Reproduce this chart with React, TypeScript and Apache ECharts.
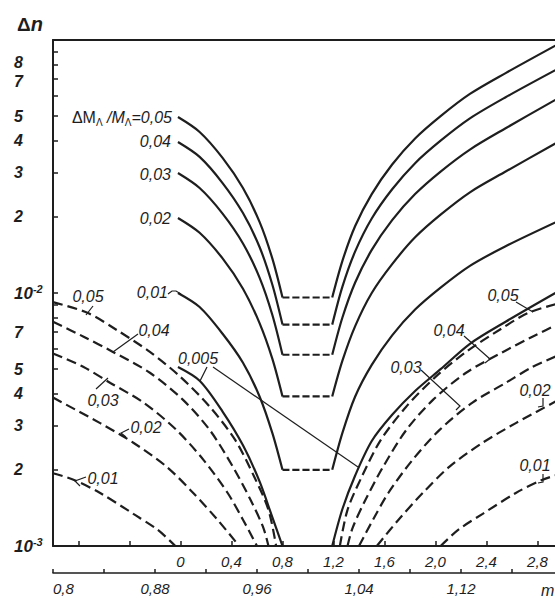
import React, { useEffect, useRef } from 'react';
import * as echarts from 'echarts';

const FONT = '"Liberation Sans", Arial, sans-serif';
const INK = '#1e1e1e';

// ---- axis ticks / labels ----
const Y_TICKS = [0.001, 0.002, 0.003, 0.004, 0.005, 0.006, 0.007, 0.008, 0.009, 0.01, 0.02, 0.03, 0.04, 0.05, 0.06, 0.07, 0.08, 0.09, 0.1];
const Y_LABEL_VALUES = [0.001, 0.002, 0.003, 0.004, 0.005, 0.007, 0.01, 0.02, 0.03, 0.04, 0.05, 0.07, 0.08];
const Y_LABEL_BASE = ['10', '2', '3', '4', '5', '7', '10', '2', '3', '4', '5', '7', '8'];
const Y_LABEL_SUP = ['-3', '', '', '', '', '', '-2', '', '', '', '', '', ''];
// labels placed on a second (line-less) y axis so that close neighbours are not dropped
const Y_LABEL_VALUES_ALT = [0.07];

const M_TICKS = [0.8, 0.84, 0.88, 0.92, 0.96, 1.0, 1.04, 1.08, 1.12, 1.16];
const M_LABEL_VALUES = [0.8, 0.88, 0.96, 1.04, 1.12];
const M_LABEL_TEXTS = ['0,8', '0,88', '0,96', '1,04', '1,12'];

const U_TICKS = [-0.8, -0.4, 0, 0.4, 0.8, 1.2, 1.6, 2.0, 2.4, 2.8];
const U_LABEL_VALUES = [0, 0.4, 0.8, 1.2, 1.6, 2.0, 2.4, 2.8];
const U_LABEL_TEXTS = ['0', '0,4', '0,8', '1,2', '1,6', '2,0', '2,4', '2,8'];

// ---- solid V-shaped curves (ΔMΛ/MΛ = 0.05 ... 0.005) ----
const V_LEFT_M = [0.898, 0.915, 0.933, 0.949, 0.962, 0.972, 0.980];
const V05_LEFT = [0.0496, 0.0433, 0.0342, 0.0260, 0.0191, 0.0137, 0.0096];
const V04_LEFT = [0.0395, 0.0345, 0.0272, 0.0207, 0.0152, 0.0108, 0.0075];
const V03_LEFT = [0.0298, 0.0260, 0.0206, 0.0157, 0.0115, 0.0082, 0.0057];
const V02_LEFT = [0.0198, 0.0173, 0.0137, 0.0104, 0.0076, 0.0055, 0.0039];
const V01_LEFT = [0.0100, 0.0088, 0.0069, 0.0053, 0.0039, 0.0028, 0.0020];
const V005_LEFT = [0.0051, 0.0045, 0.0034, 0.0025, 0.0018, 0.0013, 0.0010];

const V_RIGHT_M = [1.019, 1.027, 1.037, 1.050, 1.066, 1.084, 1.104, 1.127, 1.155, 1.194];
const V05_RIGHT = [0.0096, 0.0134, 0.0184, 0.0246, 0.0322, 0.0408, 0.0500, 0.0612, 0.0740, 0.0950];
const V04_RIGHT = [0.0075, 0.0106, 0.0146, 0.0197, 0.0257, 0.0326, 0.0400, 0.0490, 0.0594, 0.0760];
const V03_RIGHT = [0.0057, 0.0080, 0.0110, 0.0148, 0.0194, 0.0246, 0.0302, 0.0369, 0.0448, 0.0580];
const V02_RIGHT = [0.0039, 0.0054, 0.0074, 0.0100, 0.0130, 0.0166, 0.0204, 0.0250, 0.0302, 0.0390];
const V01_RIGHT = [0.0020, 0.0028, 0.0039, 0.0052, 0.0068, 0.0086, 0.0105, 0.0128, 0.0153, 0.0190];
const V005_RIGHT = [0.0010, 0.0014, 0.0019, 0.0026, 0.0033, 0.0041, 0.0050, 0.0063, 0.0077, 0.0100];

const V_FLAT_M = [0.980, 1.019];
const V_FLAT = [0.0096, 0.0075, 0.0057, 0.0039, 0.0020];

// ---- dashed curves ----
const D05_LEFT_M = [0.800, 0.827, 0.850, 0.876, 0.900, 0.923, 0.943, 0.958, 0.969, 0.975];
const D05_LEFT = [0.0092, 0.00835, 0.00714, 0.00585, 0.00466, 0.00355, 0.00262, 0.00187, 0.00139, 0.00100];
const D04_LEFT_M = [0.800, 0.824, 0.847, 0.876, 0.902, 0.923, 0.941, 0.955, 0.965, 0.969];
const D04_LEFT = [0.0077, 0.00672, 0.00585, 0.00484, 0.00378, 0.00287, 0.00206, 0.00152, 0.00118, 0.00100];
const D03_LEFT_M = [0.800, 0.824, 0.845, 0.871, 0.897, 0.918, 0.937, 0.949, 0.960];
const D03_LEFT = [0.00577, 0.0051, 0.00441, 0.00369, 0.00287, 0.00219, 0.00162, 0.00127, 0.00100];
const D02_LEFT_M = [0.800, 0.837, 0.863, 0.889, 0.910, 0.929, 0.946];
const D02_LEFT = [0.00386, 0.00306, 0.00256, 0.00206, 0.00162, 0.00127, 0.00100];
const D01_LEFT_M = [0.800, 0.817, 0.837, 0.863, 0.882, 0.896];
const D01_LEFT = [0.00194, 0.00182, 0.00162, 0.00134, 0.00116, 0.00100];

const D05_RIGHT_M = [1.025, 1.031, 1.042, 1.057, 1.077, 1.100, 1.124, 1.150, 1.173, 1.200];
const D05_RIGHT = [0.00100, 0.00139, 0.00187, 0.00262, 0.00355, 0.00466, 0.00585, 0.00714, 0.00835, 0.0092];
const D04_RIGHT_M = [1.031, 1.035, 1.045, 1.059, 1.077, 1.098, 1.124, 1.153, 1.176, 1.200];
const D04_RIGHT = [0.00100, 0.00118, 0.00152, 0.00206, 0.00287, 0.00378, 0.00484, 0.00585, 0.00672, 0.0077];
const D03_RIGHT_M = [1.040, 1.051, 1.063, 1.082, 1.103, 1.129, 1.155, 1.176, 1.200];
const D03_RIGHT = [0.00100, 0.00127, 0.00162, 0.00219, 0.00287, 0.00369, 0.00441, 0.0051, 0.00577];
const D02_RIGHT_M = [1.054, 1.071, 1.090, 1.111, 1.137, 1.163, 1.200];
const D02_RIGHT = [0.00100, 0.00127, 0.00162, 0.00206, 0.00256, 0.00306, 0.00386];
const D01_RIGHT_M = [1.104, 1.118, 1.137, 1.163, 1.183, 1.200];
const D01_RIGHT = [0.00100, 0.00116, 0.00134, 0.00162, 0.00182, 0.00194];

const lg = (v: number) => Math.log10(v);
const nearest = (arr: number[], v: number, f: (x: number) => number = (x) => x) => {
  let bi = 0;
  let bd = Infinity;
  arr.forEach((a, i) => {
    const d = Math.abs(f(a) - v);
    if (d < bd) { bd = d; bi = i; }
  });
  return bi;
};

const DASH_CURVE = [10, 5];
const DASH_FLAT = [7, 3];

function curve(ms: number[], vals: number[], dash?: number[]) {
  return {
    type: 'line',
    xAxisIndex: 0,
    yAxisIndex: 0,
    data: ms.map((m, i) => [m, lg(vals[i])]),
    showSymbol: false,
    symbol: 'none',
    smooth: 0.3,
    silent: true,
    clip: true,
    lineStyle: { color: INK, width: 2.2, type: dash ? dash : 'solid', cap: 'butt' },
  };
}

const textStyle = (size = 16) => ({ fontFamily: FONT, fontSize: size, fontStyle: 'italic', color: INK });

function label(x: number, y: number, text: string, align: string = 'center') {
  return {
    type: 'text',
    x, y,
    z: 100,
    style: {
      text,
      fill: INK,
      font: `italic 16px ${FONT}`,
      textAlign: align, align,
      textVerticalAlign: 'middle', verticalAlign: 'middle',
    },
  };
}

function leader(points: number[][]) {
  return {
    type: 'polyline',
    z: 100,
    shape: { points },
    style: { stroke: INK, lineWidth: 1.2, fill: 'none' },
  };
}

// the two topmost labels (7 and 8 of the upper decade) sit very close: nudge them apart slightly
const yFmt = (val: number) => {
  const i = nearest(Y_LABEL_VALUES, val, lg);
  if (Y_LABEL_SUP[i]) return `{t|${Y_LABEL_BASE[i]}}{s|${Y_LABEL_SUP[i]}}`;
  if (i === Y_LABEL_VALUES.length - 1) return `{up|${Y_LABEL_BASE[i]}}`;
  if (i === Y_LABEL_VALUES.length - 2) return `{dn|${Y_LABEL_BASE[i]}}`;
  return `{b|${Y_LABEL_BASE[i]}}`;
};

const Y_BASE_STYLE = { fontFamily: FONT, fontSize: 16, fontWeight: 'bold', fontStyle: 'italic', color: INK, lineHeight: 12 };
const Y_RICH = {
  b: Y_BASE_STYLE,
  up: { ...Y_BASE_STYLE, padding: [0, 0, 5, 0] },
  dn: { ...Y_BASE_STYLE, padding: [5, 0, 0, 0] },
  t: { fontFamily: FONT, fontSize: 17, fontWeight: 'bold', fontStyle: 'italic', color: INK, lineHeight: 20 },
  s: { fontFamily: FONT, fontSize: 11, fontWeight: 'bold', fontStyle: 'italic', color: INK, lineHeight: 10, verticalAlign: 'top' },
};

function buildOption() {
  const series: any[] = [];
  const lefts = [V05_LEFT, V04_LEFT, V03_LEFT, V02_LEFT, V01_LEFT, V005_LEFT];
  const rights = [V05_RIGHT, V04_RIGHT, V03_RIGHT, V02_RIGHT, V01_RIGHT, V005_RIGHT];
  lefts.forEach((v) => series.push(curve(V_LEFT_M, v)));
  rights.forEach((v) => series.push(curve(V_RIGHT_M, v)));
  V_FLAT.forEach((lvl) => series.push(curve(V_FLAT_M, [lvl, lvl], DASH_FLAT)));
  [
    [D05_LEFT_M, D05_LEFT], [D04_LEFT_M, D04_LEFT], [D03_LEFT_M, D03_LEFT], [D02_LEFT_M, D02_LEFT], [D01_LEFT_M, D01_LEFT],
    [D05_RIGHT_M, D05_RIGHT], [D04_RIGHT_M, D04_RIGHT], [D03_RIGHT_M, D03_RIGHT], [D02_RIGHT_M, D02_RIGHT], [D01_RIGHT_M, D01_RIGHT],
  ].forEach(([m, v]) => series.push(curve(m, v, DASH_CURVE)));

  const mainLabels = Y_LABEL_VALUES.filter((v) => !Y_LABEL_VALUES_ALT.includes(v));

  const graphics: any[] = [
    {
      type: 'text', x: 17, y: 24, z: 100,
      style: {
        text: '{d|Δ}{n|n}',
        textVerticalAlign: 'middle', verticalAlign: 'middle',
        rich: {
          d: { fontFamily: FONT, fontSize: 19, fontWeight: 'bold', fill: INK, color: INK },
          n: { fontFamily: FONT, fontSize: 20, fontWeight: 'bold', fontStyle: 'italic', fill: INK, color: INK },
        },
      },
    },
    {
      type: 'text', x: 172, y: 117, z: 100,
      style: {
        text: '{a|ΔM}{s|Λ}{b| /M}{s|Λ}{b|=0,05}',
        textAlign: 'right', align: 'right',
        textVerticalAlign: 'middle', verticalAlign: 'middle',
        rich: {
          a: { fontFamily: FONT, fontSize: 16, fill: INK, color: INK, lineHeight: 20 },
          b: { fontFamily: FONT, fontSize: 16, fontStyle: 'italic', fill: INK, color: INK, lineHeight: 20 },
          s: { fontFamily: FONT, fontSize: 10, fill: INK, color: INK, lineHeight: 11, verticalAlign: 'bottom' },
        },
      },
    },
    label(171, 141, '0,04', 'right'),
    label(171, 174, '0,03', 'right'),
    label(171, 218, '0,02', 'right'),
    label(168, 292, '0,01', 'right'),
    label(88, 296, '0,05'),
    label(154, 330, '0,04'),
    label(103, 400, '0,03'),
    label(146, 427, '0,02'),
    label(103, 478, '0,01'),
    label(198, 358, '0,005'),
    label(503, 295, '0,05'),
    label(449, 330, '0,04'),
    label(406, 367, '0,03'),
    label(535, 390, '0,02'),
    label(535, 465, '0,01'),
    label(541, 590, 'm', 'left'),
    leader([[168, 294], [172, 291], [176, 291], [181, 294]]),
    leader([[93, 306], [86, 315]]),
    leader([[138, 334], [113, 352]]),
    leader([[96, 389], [108, 378]]),
    leader([[129, 429], [121, 433], [126, 437]]),
    leader([[86, 477], [75, 481], [80, 486]]),
    leader([[207, 367], [200, 381]]),
    leader([[213, 367], [358, 467]]),
    leader([[516, 302], [533, 312]]),
    leader([[464, 336], [490, 359], [485, 363]]),
    leader([[421, 370], [460, 406], [456, 410]]),
    leader([[543, 398], [543, 406], [538, 407]]),
    leader([[543, 474], [543, 482], [538, 483]]),
  ];

  return {
    animation: false,
    backgroundColor: '#ffffff',
    grid: { left: 53, top: 40, width: 510, height: 506, containLabel: false },
    xAxis: [
      {
        type: 'value', min: 0.8, max: 1.2, position: 'bottom', offset: 27,
        axisLine: { show: true, onZero: false, lineStyle: { color: INK, width: 1.6 } },
        axisTick: { show: true, inside: true, length: 4, customValues: M_TICKS, lineStyle: { color: INK, width: 1.5 } },
        axisLabel: {
          show: true, customValues: M_LABEL_VALUES, margin: 8, alignMinLabel: 'left', hideOverlap: false,
          formatter: (v: number) => M_LABEL_TEXTS[nearest(M_LABEL_VALUES, v)],
          ...textStyle(15),
        },
        splitLine: { show: false },
      },
      {
        type: 'value', min: -1, max: 3, position: 'bottom', offset: 0,
        axisLine: { show: true, onZero: false, lineStyle: { color: INK, width: 2 } },
        axisTick: { show: true, inside: true, length: 5, customValues: U_TICKS, lineStyle: { color: INK, width: 1.5 } },
        axisLabel: {
          show: true, customValues: U_LABEL_VALUES, margin: 8, hideOverlap: false,
          formatter: (v: number) => U_LABEL_TEXTS[nearest(U_LABEL_VALUES, v)],
          ...textStyle(15),
        },
        splitLine: { show: false },
      },
      {
        type: 'value', min: 0, max: 1, position: 'top',
        axisLine: { show: true, onZero: false, lineStyle: { color: INK, width: 2 } },
        axisTick: { show: false },
        axisLabel: { show: false },
        splitLine: { show: false },
      },
    ],
    yAxis: [
      {
        type: 'value', min: -3, max: -1, position: 'left',
        axisLine: { show: true, onZero: false, lineStyle: { color: INK, width: 2 } },
        axisTick: { show: true, inside: true, length: 5, customValues: Y_TICKS.map(lg), lineStyle: { color: INK, width: 1.5 } },
        axisLabel: {
          show: true, customValues: mainLabels.map(lg), formatter: yFmt, align: 'left', margin: 39,
          hideOverlap: false, rich: Y_RICH,
        },
        splitLine: { show: false },
      },
      {
        type: 'value', min: -3, max: -1, position: 'left', offset: 0,
        axisLine: { show: false, onZero: false },
        axisTick: { show: false },
        axisLabel: {
          show: true, customValues: Y_LABEL_VALUES_ALT.map(lg), formatter: yFmt, align: 'left', margin: 39,
          hideOverlap: false, rich: Y_RICH,
        },
        splitLine: { show: false },
      },
    ],
    series,
    graphic: graphics,
  };
}

export default function App() {
  const ref = useRef<HTMLDivElement>(null);
  useEffect(() => {
    if (!ref.current) return;
    const chart = echarts.init(ref.current, null, { renderer: 'svg' });
    chart.setOption(buildOption() as any);
    return () => chart.dispose();
  }, []);
  return (
    <div style={{ position: 'absolute', left: 0, top: 0, width: 555, height: 598, overflow: 'hidden', background: '#fff' }}>
      <div ref={ref} style={{ width: 580, height: 598 }} />
    </div>
  );
}
